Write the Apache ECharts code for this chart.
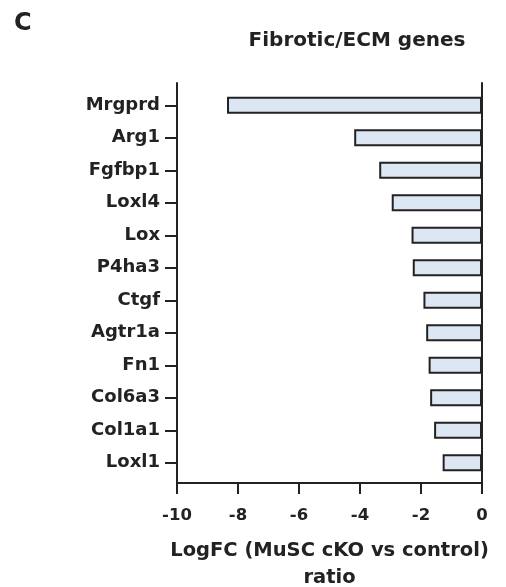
<!DOCTYPE html>
<html>
<head>
<meta charset="utf-8">
<script src="https://cdn.jsdelivr.net/npm/echarts@6/dist/echarts.min.js"></script>
<style>
  html, body { margin: 0; padding: 0; background: #fff; }
  #chart { width: 506px; height: 587px; }
</style>
</head>
<body>
<div id="chart"></div>
<script>
// Gene names, top to bottom
const genes = ['Mrgprd', 'Arg1', 'Fgfbp1', 'Loxl4', 'Lox', 'P4ha3', 'Ctgf', 'Agtr1a', 'Fn1', 'Col6a3', 'Col1a1', 'Loxl1'];
// Log fold change, MuSC cKO vs control
const logFC = [-8.36, -4.19, -3.37, -2.96, -2.31, -2.27, -1.92, -1.83, -1.75, -1.70, -1.57, -1.29];
// X axis range and step
const xMin = -10;
const xMax = 0;
const xStep = 2;

const FONT = 'DejaVu Sans';
const INK = '#222222';

const chart = echarts.init(document.getElementById('chart'), null, { renderer: 'canvas' });

chart.setOption({
  backgroundColor: '#ffffff',
  animation: false,
  title: [
    {
      text: 'C',
      left: 14, top: 12, padding: 0,
      textStyle: { fontFamily: FONT, fontWeight: 'bold', fontSize: 24, color: INK }
    },
    {
      text: 'Fibrotic/ECM genes',
      left: 357, top: 31, padding: 0, textAlign: 'center',
      textStyle: { fontFamily: FONT, fontWeight: 'bold', fontSize: 20, color: INK }
    }
  ],
  grid: [
    // bars and category labels
    { left: 177, right: 24, top: 89, height: 390, containLabel: false, outerBoundsMode: 'none' },
    // axis frame, slightly taller than the band area
    { left: 177, right: 24, top: 83, height: 400, containLabel: false, outerBoundsMode: 'none' }
  ],
  xAxis: [
    { gridIndex: 0, type: 'value', min: xMin, max: xMax, show: false },
    {
      gridIndex: 1, type: 'value', min: xMin, max: xMax, interval: xStep,
      position: 'bottom',
      axisLine: { show: true, onZero: false, lineStyle: { color: INK, width: 2 } },
      axisTick: { show: true, length: 11, lineStyle: { color: INK, width: 2 } },
      axisLabel: { fontFamily: FONT, fontWeight: 'bold', fontSize: 16.5, color: INK, margin: 24 },
      splitLine: { show: false },
      name: 'LogFC (MuSC cKO vs control)\nratio',
      nameLocation: 'middle',
      nameGap: 54,
      nameTextStyle: { fontFamily: FONT, fontWeight: 'bold', fontSize: 19.5, color: INK, lineHeight: 27 }
    }
  ],
  yAxis: [
    {
      gridIndex: 0, type: 'category', data: genes, inverse: true,
      position: 'left',
      axisLine: { show: false, onZero: false },
      axisTick: { show: true, alignWithLabel: true, length: 12, lineStyle: { color: INK, width: 2 } },
      axisLabel: { fontFamily: FONT, fontWeight: 'bold', fontSize: 18, color: INK, margin: 17 },
      splitLine: { show: false }
    },
    {
      gridIndex: 1, type: 'value', position: 'left',
      axisLine: { show: true, onZero: false, lineStyle: { color: INK, width: 2 } },
      axisTick: { show: false }, axisLabel: { show: false }, splitLine: { show: false }
    },
    {
      gridIndex: 1, type: 'value', position: 'right',
      axisLine: { show: true, onZero: false, lineStyle: { color: INK, width: 2 } },
      axisTick: { show: false }, axisLabel: { show: false }, splitLine: { show: false }
    }
  ],
  series: [
    {
      type: 'bar',
      xAxisIndex: 0, yAxisIndex: 0,
      data: logFC,
      barWidth: 17,
      itemStyle: { color: '#dde7f4', borderColor: INK, borderWidth: 2 }
    }
  ]
});
</script>
</body>
</html>
